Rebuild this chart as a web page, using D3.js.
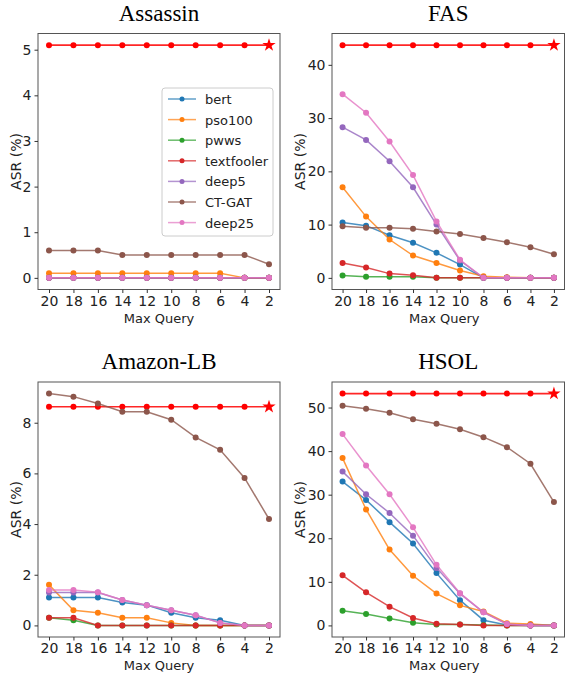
<!DOCTYPE html>
<html><head><meta charset="utf-8">
<script src="https://cdn.jsdelivr.net/npm/d3@7"></script>
<style>body{margin:0;background:#fff}svg{display:block}</style>
</head><body><svg id="c" width="565" height="677"></svg>
<script>
const queries = [20,18,16,14,12,10,8,6,4,2];
const seriesNames = ["bert","pso100","pwws","textfooler","deep5","CT-GAT","deep25"];
const seriesColors = ["#1f77b4","#ff7f0e","#2ca02c","#d62728","#9467bd","#8c564b","#e377c2"];
const oursColor = "#ff0000";

const titles = ["Assassin","FAS","Amazon-LB","HSOL"];
const yTicks = [[0,1,2,3,4,5],[0,10,20,30,40],[0,2,4,6,8],[0,10,20,30,40,50]];

// Assassin
const assassinOurs = [5.1,5.1,5.1,5.1,5.1,5.1,5.1,5.1,5.1,5.1];
const assassinBert = [0,0,0,0,0,0,0,0,0,0];
const assassinPso100 = [0.1,0.1,0.1,0.1,0.1,0.1,0.1,0.1,0,0];
const assassinPwws = [0,0,0,0,0,0,0,0,0,0];
const assassinTextfooler = [0,0,0,0,0,0,0,0,0,0];
const assassinDeep5 = [0,0,0,0,0,0,0,0,0,0];
const assassinCTGAT = [0.6,0.6,0.6,0.5,0.5,0.5,0.5,0.5,0.5,0.3];
const assassinDeep25 = [0,0,0,0,0,0,0,0,0,0];

// FAS
const fasOurs = [43.7,43.7,43.7,43.7,43.7,43.7,43.7,43.7,43.7,43.7];
const fasBert = [10.4,9.8,8.0,6.6,4.7,2.5,0,0,0,0];
const fasPso100 = [17.0,11.5,7.2,4.2,2.8,1.4,0.3,0.1,0,0];
const fasPwws = [0.45,0.2,0.2,0.2,0,0,0,0,0,0];
const fasTextfooler = [2.8,1.95,0.8,0.5,0,0,0,0,0,0];
const fasDeep5 = [28.3,25.9,21.9,17.0,10.0,3.25,0,0,0,0];
const fasCTGAT = [9.7,9.4,9.4,9.2,8.7,8.25,7.5,6.7,5.75,4.45];
const fasDeep25 = [34.5,31.0,25.6,19.3,10.6,3.4,0,0,0,0];

// Amazon-LB
const amazonOurs = [8.63,8.63,8.63,8.63,8.63,8.63,8.63,8.63,8.63,8.63];
const amazonBert = [1.1,1.1,1.1,0.9,0.8,0.5,0.3,0.2,0,0];
const amazonPso100 = [1.6,0.6,0.5,0.3,0.3,0.1,0,0,0,0];
const amazonPwws = [0.3,0.2,0,0,0,0,0,0,0,0];
const amazonTextfooler = [0.3,0.3,0,0,0,0,0,0,0,0];
const amazonDeep5 = [1.3,1.3,1.3,1.0,0.8,0.6,0.4,0.1,0,0];
const amazonCTGAT = [9.15,9.03,8.76,8.43,8.43,8.12,7.42,6.93,5.82,4.2];
const amazonDeep25 = [1.4,1.4,1.31,1.0,0.8,0.6,0.4,0.1,0,0];

// HSOL
const hsolOurs = [53.2,53.2,53.2,53.2,53.2,53.2,53.2,53.2,53.2,53.2];
const hsolBert = [33.0,28.8,23.7,18.8,12.0,5.8,1.2,0.1,0,0];
const hsolPso100 = [38.4,26.6,17.4,11.4,7.3,4.6,3.2,0.5,0.3,0];
const hsolPwws = [3.35,2.6,1.6,0.6,0.2,0.2,0.1,0,0,0];
const hsolTextfooler = [11.5,7.6,4.3,1.7,0.4,0.2,0,0,0,0];
const hsolDeep5 = [35.3,30.1,25.8,20.6,13.2,7.3,3.0,0.3,0,0];
const hsolCTGAT = [50.4,49.7,48.8,47.3,46.3,45.0,43.2,40.9,37.1,28.3];
const hsolDeep25 = [43.9,36.7,30.1,22.5,13.9,7.4,3.0,0.3,0,0];

const datasets = [
  {ours: assassinOurs, series:[assassinBert,assassinPso100,assassinPwws,assassinTextfooler,assassinDeep5,assassinCTGAT,assassinDeep25]},
  {ours: fasOurs, series:[fasBert,fasPso100,fasPwws,fasTextfooler,fasDeep5,fasCTGAT,fasDeep25]},
  {ours: amazonOurs, series:[amazonBert,amazonPso100,amazonPwws,amazonTextfooler,amazonDeep5,amazonCTGAT,amazonDeep25]},
  {ours: hsolOurs, series:[hsolBert,hsolPso100,hsolPwws,hsolTextfooler,hsolDeep5,hsolCTGAT,hsolDeep25]}
];

const boxes = [
  {x0:38, x1:280, y0:33.5, y1:289.5, lab:17},
  {x0:332, x1:564.5, y0:33.5, y1:289.5, lab:27},
  {x0:38, x1:280, y0:382, y1:637, lab:17},
  {x0:332, x1:564.5, y0:382, y1:637, lab:27}
];

const svg = d3.select("#c");
const sans = "DejaVu Sans, sans-serif";

datasets.forEach((ds, i) => {
  const b = boxes[i];
  const g = svg.append("g");
  const x = d3.scaleLinear().domain([20.9, 1.1]).range([b.x0, b.x1]);
  const allVals = ds.series.flat().concat(ds.ours);
  const ymax = d3.max(allVals), ymin = d3.min(allVals);
  const pad = (ymax - ymin) * 0.05;
  const y = d3.scaleLinear().domain([ymin - pad, ymax + pad]).range([b.y1, b.y0]);

  // title
  g.append("text").attr("x", (b.x0 + b.x1) / 2).attr("y", b.y0 - 13)
    .attr("text-anchor", "middle").attr("font-family", "Liberation Serif, Times New Roman, serif")
    .attr("font-size", 23).attr("fill", "#000").text(titles[i]);

  const line = d3.line().x((d, j) => x(queries[j])).y(d => y(d));

  // ours
  g.append("path").attr("d", line(ds.ours)).attr("fill", "none")
    .attr("stroke", oursColor).attr("stroke-width", 1.6).attr("stroke-opacity", 0.85);
  g.selectAll(".om").data(ds.ours.slice(0, -1)).enter().append("circle")
    .attr("cx", (d, j) => x(queries[j])).attr("cy", d => y(d)).attr("r", 3).attr("fill", oursColor);
  g.append("path").attr("d", d3.symbol().type(d3.symbolStar).size(55)())
    .attr("transform", `translate(${x(queries[queries.length - 1])},${y(ds.ours[ds.ours.length - 1])})`)
    .attr("fill", oursColor);

  ds.series.forEach((s, k) => {
    g.append("path").attr("d", line(s)).attr("fill", "none")
      .attr("stroke", seriesColors[k]).attr("stroke-width", 1.5).attr("stroke-opacity", 0.8);
    g.selectAll(null).data(s).enter().append("circle")
      .attr("cx", (d, j) => x(queries[j])).attr("cy", d => y(d)).attr("r", 3)
      .attr("fill", seriesColors[k]);
  });

  // frame
  g.append("rect").attr("x", b.x0).attr("y", b.y0).attr("width", b.x1 - b.x0).attr("height", b.y1 - b.y0)
    .attr("fill", "none").attr("stroke", "#555").attr("stroke-width", 1);

  // axes
  const xa = g.append("g").attr("transform", `translate(0,${b.y1})`)
    .call(d3.axisBottom(x).tickValues(queries).tickSize(3.5).tickPadding(3).tickFormat(d3.format("d")));
  xa.select(".domain").remove();
  xa.selectAll("line").attr("stroke", "#333");
  xa.selectAll("text").attr("font-family", sans).attr("font-size", 14).attr("fill", "#222");

  const ya = g.append("g").attr("transform", `translate(${b.x0},0)`)
    .call(d3.axisLeft(y).tickValues(yTicks[i]).tickSize(3.5).tickPadding(3).tickFormat(d3.format("d")));
  ya.select(".domain").remove();
  ya.selectAll("line").attr("stroke", "#333");
  ya.selectAll("text").attr("font-family", sans).attr("font-size", 14).attr("fill", "#222");

  g.append("text").attr("x", (b.x0 + b.x1) / 2 - (i % 2 ? 4 : 0)).attr("y", b.y1 + 33)
    .attr("text-anchor", "middle").attr("font-family", sans).attr("font-size", 13).attr("fill", "#222")
    .text("Max Query");
  g.append("text").attr("transform", `translate(${b.x0 - b.lab},${(b.y0 + b.y1) / 2}) rotate(-90)`)
    .attr("text-anchor", "middle").attr("font-family", sans).attr("font-size", 14).attr("fill", "#222")
    .text("ASR (%)");

  if (i === 0) {
    const lg = g.append("g").attr("transform", "translate(162,88)");
    lg.append("rect").attr("width", 111).attr("height", 148).attr("rx", 3)
      .attr("fill", "#fff").attr("fill-opacity", 0.8).attr("stroke", "#ccc");
    seriesNames.forEach((n, k) => {
      const yy = 11 + k * 20.6;
      lg.append("line").attr("x1", 6).attr("x2", 34).attr("y1", yy).attr("y2", yy)
        .attr("stroke", seriesColors[k]).attr("stroke-width", 1.5).attr("stroke-opacity", 0.7);
      lg.append("circle").attr("cx", 20).attr("cy", yy).attr("r", 2.5).attr("fill", seriesColors[k]);
      lg.append("text").attr("x", 43).attr("y", yy + 5).attr("font-family", sans).attr("font-size", 13)
        .attr("fill", "#222").text(n);
    });
  }
});
</script></body></html>
